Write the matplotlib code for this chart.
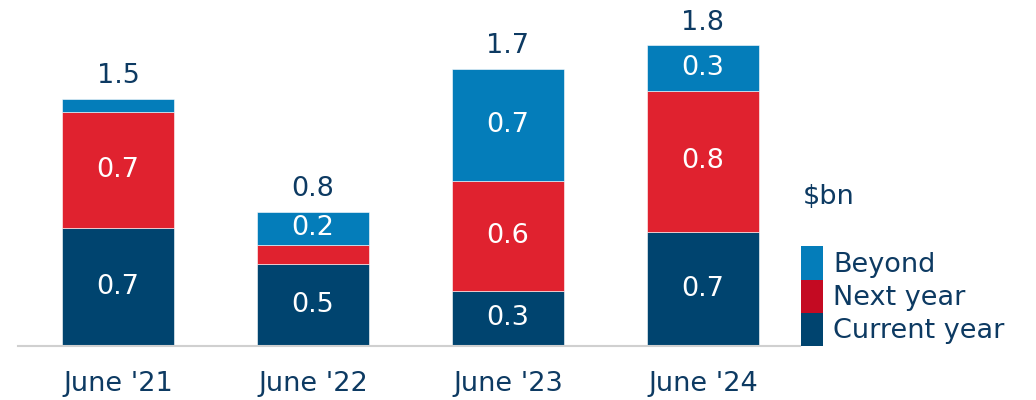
import matplotlib
matplotlib.use("Agg")
import matplotlib.pyplot as plt
from matplotlib.patches import Rectangle
import numpy as np

categories = ["June '21", "June '22", "June '23", "June '24"]
current_year = [0.70, 0.49, 0.33, 0.68]
next_year = [0.69, 0.11, 0.65, 0.84]
beyond = [0.08, 0.20, 0.67, 0.27]
current_labels = ["0.7", "0.5", "0.3", "0.7"]
next_labels = ["0.7", "", "0.6", "0.8"]
beyond_labels = ["", "0.2", "0.7", "0.3"]
total_labels = ["1.5", "0.8", "1.7", "1.8"]
legend_labels = ["Beyond", "Next year", "Current year"]

NAVY = "#00446f"
RED = "#e0222f"
BLUE = "#047dba"
LEG_RED = "#c40a22"
TXT = "#0d3a62"
FS = 19.5

plt.rcParams['font.family'] = ['DejaVu Sans']

W, H = 1036, 400
fig = plt.figure(figsize=(W / 100, H / 100), dpi=100)
left_px, right_px, base_px = 18, 800, 346
scale = 168.0
ax = fig.add_axes([left_px / W, (H - base_px) / H, (right_px - left_px) / W, base_px / H])

x = np.arange(len(categories))
c0 = 118
sp = 195
ax.set_xlim((left_px - c0) / sp, (right_px - c0) / sp)
ax.set_ylim(0, base_px / scale)

bw = 0.575
cur = np.array(current_year)
nxt = np.array(next_year)
bey = np.array(beyond)
b1 = ax.bar(x, cur, bw, color=NAVY, edgecolor="white", linewidth=0.4)
b2 = ax.bar(x, nxt, bw, bottom=cur, color=RED, edgecolor="white", linewidth=0.4)
b3 = ax.bar(x, bey, bw, bottom=cur + nxt, color=BLUE, edgecolor="white", linewidth=0.4)

ax.bar_label(b1, labels=current_labels, label_type="center", color="white", fontsize=FS)
ax.bar_label(b2, labels=next_labels, label_type="center", color="white", fontsize=FS)
ax.bar_label(b3, labels=beyond_labels, label_type="center", color="white", fontsize=FS)

totals = cur + nxt + bey
for xi, t, lab in zip(x, totals, total_labels):
    ax.annotate(lab, (xi, t), xytext=(0, 7), textcoords="offset points",
                ha="center", va="bottom", color=TXT, fontsize=FS)

for s in ["top", "right", "left"]:
    ax.spines[s].set_visible(False)
ax.spines["bottom"].set_color("#d0d0d0")
ax.spines["bottom"].set_linewidth(1.5)
ax.set_yticks([])
ax.set_xticks(x)
ax.set_xticklabels(categories, fontsize=FS, color=TXT)
ax.tick_params(axis="x", length=0, pad=18)

# legend: contiguous colour blocks with labels
leg_colors = [BLUE, LEG_RED, NAVY]
row_tops = [246, 280, 313]
row_bots = [280, 313, 346]
for col, lab, t, b in zip(leg_colors, legend_labels, row_tops, row_bots):
    fig.patches.append(Rectangle((801 / W, (H - b) / H), 22 / W, (b - t) / H,
                                 transform=fig.transFigure, facecolor=col, edgecolor="none"))
    fig.text(833 / W, (H - (t + b) / 2 - 1.5) / H, lab, fontsize=FS, color=TXT,
             ha="left", va="center")

fig.text(803 / W, (H - 197) / H, r"\$bn", fontsize=FS, color=TXT, ha="left", va="center")

fig.savefig("out.png", dpi=100)
